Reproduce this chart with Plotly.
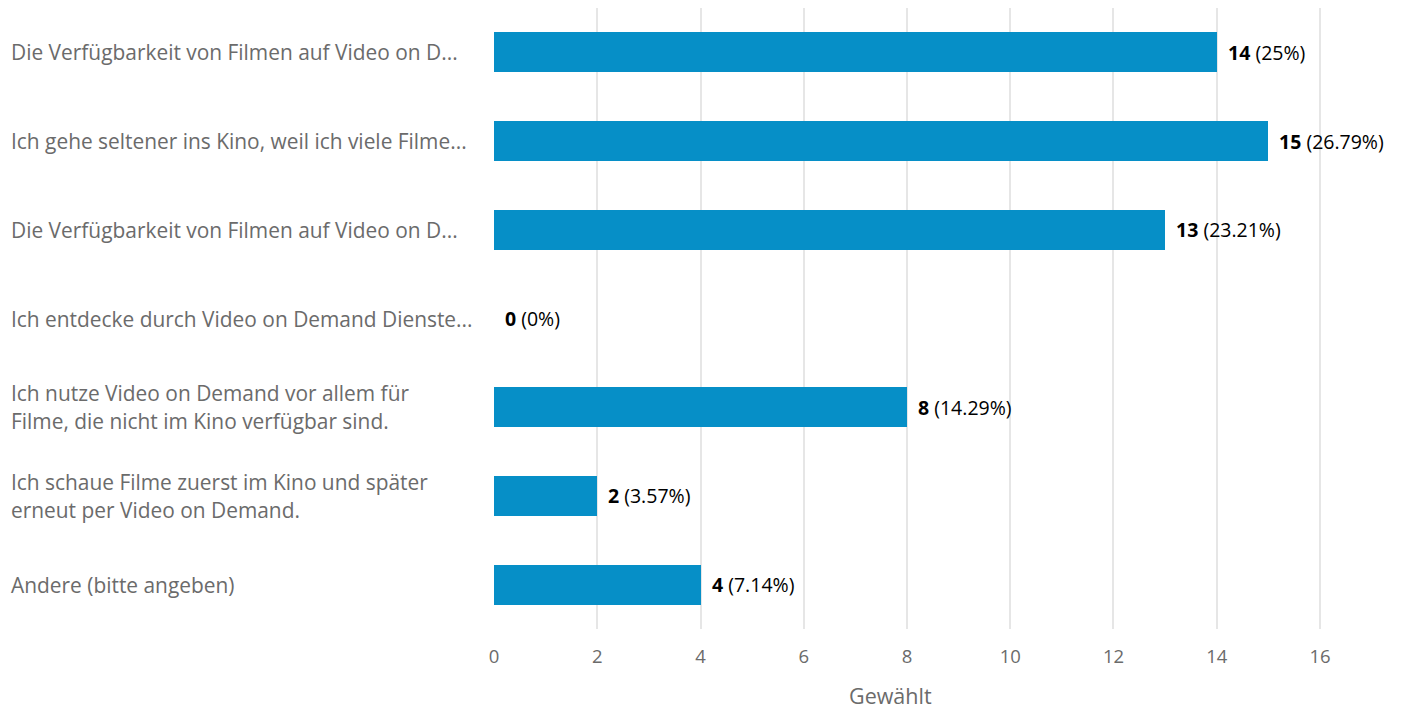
import plotly.graph_objects as go

# Survey answers (top to bottom) and how often each was chosen
categories = [
    "Die Verfügbarkeit von Filmen auf Video on D...",
    "Ich gehe seltener ins Kino, weil ich viele Filme...",
    "Die Verfügbarkeit von Filmen auf Video on D...",
    "Ich entdecke durch Video on Demand Dienste...",
    "Ich nutze Video on Demand vor allem für\nFilme, die nicht im Kino verfügbar sind.",
    "Ich schaue Filme zuerst im Kino und später\nerneut per Video on Demand.",
    "Andere (bitte angeben)",
]
counts = [14, 15, 13, 0, 8, 2, 4]
percents = ["25%", "26.79%", "23.21%", "0%", "14.29%", "3.57%", "7.14%"]
x_ticks = [0, 2, 4, 6, 8, 10, 12, 14, 16]
x_title = "Gewählt"

FONT = "Open Sans"
BAR_COLOR = "#068FC7"
GRAY = "#6b6b6b"

W, H = 1402, 709
ML, MR, MT, MB = 494, 2, 8, 80
plot_w = W - ML - MR
plot_h = H - MT - MB

y_pos = list(range(len(categories)))

fig = go.Figure(
    go.Bar(
        x=counts,
        y=y_pos,
        orientation="h",
        width=0.45,
        marker=dict(color=BAR_COLOR, line=dict(width=0)),
        hoverinfo="skip",
    )
)

annotations = []
# Left-aligned answer labels, one annotation per line
for i, label in enumerate(categories):
    lines = label.split("\n")
    n = len(lines)
    for j, line in enumerate(lines):
        annotations.append(
            dict(
                x=(9 - ML) / plot_w,
                xref="paper",
                y=i,
                yref="y",
                text=line,
                xanchor="left",
                yanchor="middle",
                showarrow=False,
                yshift=-(j - (n - 1) / 2) * 28,
                font=dict(family=FONT, size=20.9, color=GRAY),
            )
        )

# Value labels next to each bar
for i, (c, p) in enumerate(zip(counts, percents)):
    annotations.append(
        dict(
            x=c,
            xref="x",
            y=i,
            yref="y",
            text=f"<b>{c}</b> ({p})",
            xanchor="left",
            yanchor="middle",
            xshift=9,
            showarrow=False,
            font=dict(family=FONT, size=19.5, color="#000000"),
        )
    )

# Axis title below the tick labels
annotations.append(
    dict(
        x=(890 - ML) / plot_w,
        xref="paper",
        y=-(695 - MT - plot_h) / plot_h,
        yref="paper",
        text=x_title,
        xanchor="center",
        yanchor="middle",
        showarrow=False,
        font=dict(family=FONT, size=21.5, color=GRAY),
    )
)

fig.update_layout(
    width=W,
    height=H,
    margin=dict(l=ML, r=MR, t=MT, b=MB, pad=0),
    paper_bgcolor="white",
    plot_bgcolor="white",
    showlegend=False,
    bargap=0,
    annotations=annotations,
    font=dict(family=FONT, color=GRAY),
    xaxis=dict(
        range=[0, 17.55],
        tickvals=x_ticks,
        ticktext=[str(v) for v in x_ticks],
        showgrid=True,
        gridcolor="#e6e6e6",
        gridwidth=2,
        zeroline=False,
        showline=False,
        ticks="outside",
        ticklen=11,
        tickcolor="rgba(0,0,0,0)",
        tickfont=dict(family=FONT, size=18.5, color=GRAY),
        fixedrange=True,
    ),
    yaxis=dict(
        range=[len(categories) - 0.5, -0.5],
        showticklabels=False,
        showgrid=False,
        zeroline=False,
        showline=False,
        fixedrange=True,
    ),
)

fig.write_html("out.html")
